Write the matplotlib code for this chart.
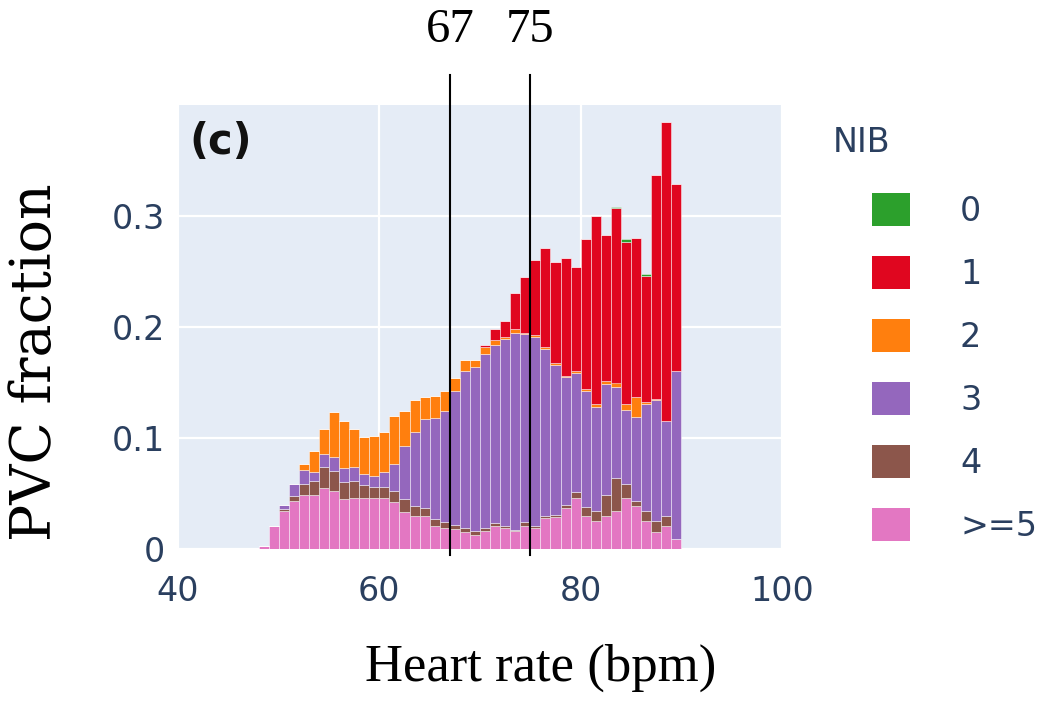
import matplotlib
matplotlib.use("Agg")
import matplotlib.pyplot as plt
from matplotlib.patches import Patch
import numpy as np

# heart-rate bins (left edges, 1 bpm wide)
bin_left = np.arange(48, 90)

# PVC fraction per bin, split by number of intervening beats (NIB)
nib_ge5 = [0.003, 0.021, 0.034, 0.043, 0.049, 0.049, 0.055, 0.052, 0.045, 0.046,
           0.046, 0.046, 0.046, 0.042, 0.033, 0.030, 0.030, 0.021, 0.019, 0.018,
           0.015, 0.013, 0.016, 0.021, 0.019, 0.016, 0.021, 0.019, 0.028, 0.029,
           0.037, 0.046, 0.030, 0.025, 0.030, 0.034, 0.046, 0.039, 0.025, 0.015,
           0.021, 0.009]
nib_4 = [0.000, 0.000, 0.002, 0.005, 0.010, 0.012, 0.019, 0.018, 0.015, 0.015,
         0.012, 0.010, 0.010, 0.010, 0.012, 0.009, 0.007, 0.006, 0.005, 0.004,
         0.004, 0.003, 0.003, 0.002, 0.002, 0.001, 0.003, 0.002, 0.002, 0.002,
         0.003, 0.005, 0.008, 0.009, 0.019, 0.030, 0.013, 0.004, 0.009, 0.010,
         0.009, 0.000]
nib_3 = [0.000, 0.000, 0.004, 0.011, 0.012, 0.008, 0.012, 0.013, 0.013, 0.013,
         0.010, 0.010, 0.013, 0.025, 0.048, 0.066, 0.080, 0.091, 0.100, 0.120,
         0.141, 0.148, 0.157, 0.161, 0.168, 0.178, 0.170, 0.170, 0.150, 0.135,
         0.115, 0.108, 0.104, 0.094, 0.100, 0.082, 0.066, 0.076, 0.097, 0.109,
         0.085, 0.151]
nib_2 = [0.000, 0.000, 0.000, 0.000, 0.006, 0.019, 0.022, 0.040, 0.042, 0.034,
         0.033, 0.036, 0.036, 0.043, 0.031, 0.029, 0.020, 0.020, 0.018, 0.012,
         0.010, 0.006, 0.006, 0.004, 0.002, 0.003, 0.001, 0.002, 0.002, 0.002,
         0.001, 0.001, 0.002, 0.003, 0.002, 0.004, 0.006, 0.018, 0.001, 0.001,
         0.000, 0.000]
nib_1 = [0.000, 0.000, 0.000, 0.000, 0.000, 0.000, 0.000, 0.000, 0.000, 0.000,
         0.000, 0.000, 0.000, 0.000, 0.000, 0.000, 0.000, 0.000, 0.000, 0.000,
         0.000, 0.000, 0.002, 0.010, 0.014, 0.033, 0.050, 0.067, 0.089, 0.091,
         0.106, 0.094, 0.135, 0.169, 0.132, 0.157, 0.146, 0.143, 0.114, 0.202,
         0.270, 0.169]
nib_0 = [0.000] * 35 + [0.001, 0.002, 0.000, 0.002, 0.000, 0.000, 0.000]

# stacked bottom -> top
stack_series = [nib_ge5, nib_4, nib_3, nib_2, nib_1, nib_0]
stack_colors = ["#e377c2", "#8c564b", "#9467bd", "#ff7f0e", "#e0061f", "#2ca02c"]
stack_labels = [">=5", "4", "3", "2", "1", "0"]

# marked heart rates
hr_marks = [67, 75]

x_ticks = [40, 60, 80, 100]
y_ticks = [0, 0.1, 0.2, 0.3]
y_ticklabels = ["0", "0.1", "0.2", "0.3"]

font_color = "#2a3f5f"
serif = ["Liberation Serif", "DejaVu Serif"]

fig = plt.figure(figsize=(10.53, 7.01), dpi=100)
ax = fig.add_axes([178 / 1053, 152 / 701, 604 / 1053, 444 / 701])
ax.set_facecolor("#e5ecf6")

bottom = np.zeros(len(bin_left))
for vals, col in zip(stack_series, stack_colors):
    vals = np.array(vals)
    ax.bar(bin_left, vals, width=1.0, bottom=bottom, align="edge",
           color=col, edgecolor=(1, 1, 1, 0.55), linewidth=0.6, zorder=3)
    bottom += vals

ax.set_xlim(40, 100)
ax.set_ylim(0, 0.4)
ax.set_xticks(x_ticks)
ax.set_yticks(y_ticks)
ax.set_yticklabels(y_ticklabels)
ax.grid(True, color="white", linewidth=1.6, zorder=0)
ax.set_axisbelow(True)
for s in ax.spines.values():
    s.set_visible(False)
ax.tick_params(axis="both", length=0, labelsize=24, labelcolor=font_color)
ax.tick_params(axis="x", pad=19)
ax.tick_params(axis="y", pad=9)

# vertical marker lines reaching above the plot, with their labels
for hr in hr_marks:
    ax.axvline(hr, ymin=-0.0135, ymax=1.067, color="black", linewidth=1.5,
               clip_on=False, zorder=5)
    ax.text(hr, 1.17, str(hr), transform=ax.get_xaxis_transform(),
            ha="center", va="center", fontsize=35, family=serif, color="black")

ax.text(189 / 1053, (701 - 142) / 701, "(c)", transform=fig.transFigure,
        ha="left", va="center", fontsize=30, fontweight="bold", color="#111111")

fig.text(541 / 1053, (701 - 668) / 701, "Heart rate (bpm)", ha="center",
         va="center", fontsize=38, family=serif, color="black")
fig.text(36 / 1053, (701 - 362) / 701, "PVC fraction", ha="center",
         va="center", rotation=90, fontsize=40,
         family=["DejaVu Serif"], color="black")

# legend, top entry = NIB 0
fig.text(833 / 1053, (701 - 143) / 701, "NIB", ha="left", va="center",
         fontsize=24, color=font_color)
handles = [Patch(facecolor=c, edgecolor="none") for c in stack_colors[::-1]]
leg = fig.legend(handles, stack_labels[::-1], loc="upper left",
                 bbox_to_anchor=(872 / 1053, (701 - 193) / 701),
                 frameon=False, fontsize=24, handlelength=1.14,
                 handleheight=1.14, labelspacing=0.85, handletextpad=1.5,
                 borderpad=0, borderaxespad=0)
for t in leg.get_texts():
    t.set_color(font_color)

fig.savefig("out.png", dpi=100, facecolor="white")
